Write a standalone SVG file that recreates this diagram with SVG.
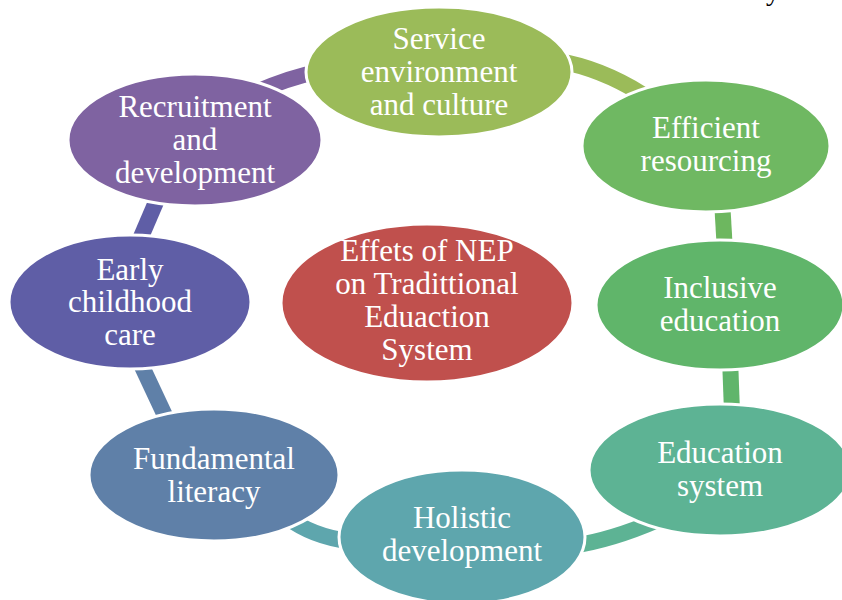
<svg xmlns="http://www.w3.org/2000/svg" width="842" height="600" viewBox="0 0 842 600">
  <style>
    .node { stroke: #ffffff; stroke-width: 3; }
    .seg { fill: none; stroke-width: 16; stroke-linecap: butt; }
    .lbl { font-family: "Liberation Serif", "Times New Roman", serif; font-size: 31px; fill: #ffffff; text-anchor: middle; }
  </style>
  <rect width="842" height="600" fill="#ffffff"/>
  <!-- stray glyph at the top edge -->
  <text x="766" y="0" font-family="Liberation Serif, serif" font-size="28" fill="#000000">y</text>

  <!-- ring segments between the outer nodes -->
  <g id="connectors">
    <path class="seg" stroke="#7f63a1" d="M 248 96 Q 285 78 322 71"/>
    <path class="seg" stroke="#9bbb59" d="M 558 61 Q 600 68 642 94"/>
    <path class="seg" stroke="#6db75f" d="M 722 200 L 725 252"/>
    <path class="seg" stroke="#60b56b" d="M 730 358 L 732 412"/>
    <path class="seg" stroke="#5db394" d="M 572 546 Q 612 540 658 520"/>
    <path class="seg" stroke="#5ea6ad" d="M 288 518 Q 312 536 348 541"/>
    <path class="seg" stroke="#5f80a8" d="M 138 358 L 168 422"/>
    <path class="seg" stroke="#5f5ea6" d="M 162 188 L 138 244"/>
  </g>

  <g id="node-service">
    <ellipse class="node" cx="439" cy="72" rx="133" ry="65" fill="#9bbb59"/>
    <text class="lbl" x="439" y="49">Service</text>
    <text class="lbl" x="439" y="82">environment</text>
    <text class="lbl" x="439" y="115">and culture</text>
  </g>
  <g id="node-efficient">
    <ellipse class="node" cx="706" cy="146" rx="124" ry="66" fill="#6fb862"/>
    <text class="lbl" x="706" y="138">Efficient</text>
    <text class="lbl" x="706" y="171">resourcing</text>
  </g>
  <g id="node-inclusive">
    <ellipse class="node" cx="720" cy="305" rx="124" ry="65" fill="#60b56a"/>
    <text class="lbl" x="720" y="298">Inclusive</text>
    <text class="lbl" x="720" y="331">education</text>
  </g>
  <g id="node-education">
    <ellipse class="node" cx="720" cy="470" rx="131" ry="66" fill="#5db394"/>
    <text class="lbl" x="720" y="463">Education</text>
    <text class="lbl" x="720" y="496">system</text>
  </g>
  <g id="node-holistic">
    <ellipse class="node" cx="462" cy="537" rx="123" ry="67" fill="#5ea6ad"/>
    <text class="lbl" x="462" y="528">Holistic</text>
    <text class="lbl" x="462" y="561">development</text>
  </g>
  <g id="node-fundamental">
    <ellipse class="node" cx="214" cy="475" rx="125" ry="66" fill="#5f80a8"/>
    <text class="lbl" x="214" y="469">Fundamental</text>
    <text class="lbl" x="214" y="502">literacy</text>
  </g>
  <g id="node-early">
    <ellipse class="node" cx="130" cy="302" rx="121" ry="67" fill="#5f5ea6"/>
    <text class="lbl" x="130" y="280">Early</text>
    <text class="lbl" x="130" y="312">childhood</text>
    <text class="lbl" x="130" y="345">care</text>
  </g>
  <g id="node-recruitment">
    <ellipse class="node" cx="195" cy="140" rx="127" ry="66" fill="#7f63a1"/>
    <text class="lbl" x="195" y="117">Recruitment</text>
    <text class="lbl" x="195" y="150">and</text>
    <text class="lbl" x="195" y="183">development</text>
  </g>
  <g id="node-center">
    <ellipse class="node" cx="427" cy="303" rx="146" ry="79" fill="#c0504d"/>
    <text class="lbl" x="427" y="261">Effets of NEP</text>
    <text class="lbl" x="427" y="294">on Tradittional</text>
    <text class="lbl" x="427" y="327">Eduaction</text>
    <text class="lbl" x="427" y="360">System</text>
  </g>
</svg>
